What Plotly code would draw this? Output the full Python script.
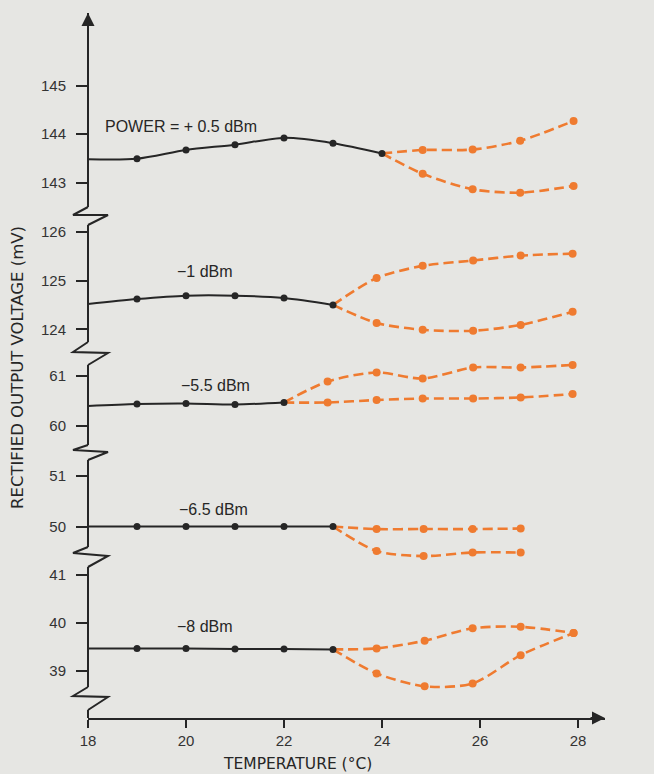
import plotly.graph_objects as go

# ---------------- data ----------------
# +0.5 dBm
t_black_p05 = [18, 19, 20, 21, 22, 23, 24]
v_black_p05 = [143.48, 143.49, 143.67, 143.78, 143.92, 143.81, 143.60]
t_orng_p05 = [24, 24.83, 25.85, 26.82, 27.91]
v_up_p05 = [143.60, 143.67, 143.68, 143.86, 144.27]
v_lo_p05 = [143.60, 143.18, 142.86, 142.79, 142.93]

# -1 dBm
t_black_m1 = [18, 19, 20, 21, 22, 23]
v_black_m1 = [124.52, 124.62, 124.69, 124.69, 124.64, 124.50]
t_orng_m1 = [23, 23.89, 24.83, 25.86, 26.83, 27.89]
v_up_m1 = [124.50, 125.05, 125.30, 125.41, 125.51, 125.55]
v_lo_m1 = [124.50, 124.13, 123.99, 123.97, 124.09, 124.36]

# -5.5 dBm
t_black_m55 = [18, 19, 20, 21, 22]
v_black_m55 = [60.40, 60.44, 60.45, 60.43, 60.47]
t_orng_m55 = [22, 22.89, 23.89, 24.83, 25.86, 26.83, 27.89]
v_up_m55 = [60.47, 60.89, 61.07, 60.95, 61.17, 61.17, 61.22]
v_lo_m55 = [60.47, 60.47, 60.52, 60.55, 60.55, 60.57, 60.64]

# -6.5 dBm
t_black_m65 = [18, 19, 20, 21, 22, 23]
v_black_m65 = [50.0, 50.0, 50.0, 50.0, 50.0, 50.0]
t_orng_m65 = [23, 23.89, 24.85, 25.85, 26.83]
v_up_m65 = [50.0, 49.95, 49.95, 49.95, 49.96]
v_lo_m65 = [50.0, 49.52, 49.42, 49.49, 49.49]

# -8 dBm
t_black_m8 = [18, 19, 20, 21, 22, 23]
v_black_m8 = [39.46, 39.46, 39.46, 39.45, 39.45, 39.44]
t_orng_m8 = [23, 23.89, 24.87, 25.85, 26.83, 27.91]
v_up_m8 = [39.44, 39.46, 39.62, 39.88, 39.91, 39.78]
v_lo_m8 = [39.44, 38.94, 38.67, 38.73, 39.32, 39.78]

labels = ["POWER = + 0.5 dBm", "\u22121 dBm", "\u22125.5 dBm", "\u22126.5 dBm", "\u22128 dBm"]
ticks_p05 = [143, 144, 145]
ticks_m1 = [124, 125, 126]
ticks_m55 = [60, 61]
ticks_m65 = [50, 51]
ticks_m8 = [39, 40, 41]
x_ticks = [18, 20, 22, 24, 26, 28]

# ---------------- geometry ----------------
W, H = 654, 774
ML, MR, MT, MB = 88, 49, 13, 56
PW, PH = W - ML - MR, H - MT - MB
BG = "#e6e6e3"
INK = "#262626"
ORANGE = "#ef7b30"
FONT = "Liberation Sans"
TFONT = "DejaVu Sans"


def py(p):
    return (H - MB - p) / PH


def px(p):
    return (p - ML) / PW


sections = [
    dict(ax="y5", label=labels[0], tb=t_black_p05, vb=v_black_p05, to=t_orng_p05, vu=v_up_p05, vl=v_lo_p05,
         ticks=ticks_p05, top=13, bot=216, vref=144, pref=134, k=48.5, lx=19.9, ly=144.15),
    dict(ax="y4", label=labels[1], tb=t_black_m1, vb=v_black_m1, to=t_orng_m1, vu=v_up_m1, vl=v_lo_m1,
         ticks=ticks_m1, top=216, bot=354, vref=125, pref=280.5, k=48.8, lx=20.39, ly=125.18),
    dict(ax="y3", label=labels[2], tb=t_black_m55, vb=v_black_m55, to=t_orng_m55, vu=v_up_m55, vl=v_lo_m55,
         ticks=ticks_m55, top=354, bot=453, vref=60.5, pref=401, k=50, lx=20.6, ly=60.82),
    dict(ax="y2", label=labels[3], tb=t_black_m65, vb=v_black_m65, to=t_orng_m65, vu=v_up_m65, vl=v_lo_m65,
         ticks=ticks_m65, top=453, bot=562, vref=50.5, pref=501, k=51, lx=20.57, ly=50.33),
    dict(ax="y", label=labels[4], tb=t_black_m8, vb=v_black_m8, to=t_orng_m8, vu=v_up_m8, vl=v_lo_m8,
         ticks=ticks_m8, top=562, bot=718, vref=40, pref=622.5, k=48, lx=20.39, ly=39.92),
]

fig = go.Figure()
layout_axes = {}
annotations = []

for s in sections:
    for vy in (s["vu"], s["vl"]):
        fig.add_trace(go.Scatter(
            x=s["to"], y=vy, xaxis="x", yaxis=s["ax"], mode="lines",
            line=dict(color=ORANGE, width=2.6, dash="10px,5px", shape="spline", smoothing=0.8),
            hoverinfo="skip", showlegend=False))
        fig.add_trace(go.Scatter(
            x=s["to"][1:], y=vy[1:], xaxis="x", yaxis=s["ax"], mode="markers",
            marker=dict(color=ORANGE, size=8), cliponaxis=False,
            showlegend=False))
    fig.add_trace(go.Scatter(
        x=s["tb"], y=s["vb"], xaxis="x", yaxis=s["ax"], mode="lines",
        line=dict(color=INK, width=2, shape="spline", smoothing=0.8),
        hoverinfo="skip", showlegend=False))
    fig.add_trace(go.Scatter(
        x=s["tb"][1:], y=s["vb"][1:], xaxis="x", yaxis=s["ax"], mode="markers",
        marker=dict(color=INK, size=7), cliponaxis=False, showlegend=False))

    lo = s["vref"] - (s["bot"] - s["pref"]) / s["k"]
    hi = s["vref"] + (s["pref"] - s["top"]) / s["k"]
    key = "yaxis" if s["ax"] == "y" else "yaxis" + s["ax"][1:]
    layout_axes[key] = dict(
        domain=[py(s["bot"]), py(s["top"])], range=[lo, hi], anchor="x",
        tickvals=s["ticks"], ticks="outside", ticklen=11, tickwidth=1.6, tickcolor=INK,
        ticklabelstandoff=7,
        showline=False, showgrid=False, zeroline=False,
        tickfont=dict(family=FONT, size=15, color="#333333"))
    annotations.append(dict(x=s["lx"], y=s["ly"], xref="x", yref=s["ax"], text=s["label"],
                            xanchor="center", yanchor="middle",
                            showarrow=False, font=dict(family=FONT, size=16, color=INK)))

# axis arrows
annotations.append(dict(x=1, y=0, xref="paper", yref="paper", ax=-16, ay=0, text="",
                        showarrow=True, arrowhead=2, arrowsize=1.3, arrowwidth=2, arrowcolor=INK))
annotations.append(dict(x=0, y=1, xref="paper", yref="paper", ax=0, ay=16, text="",
                        showarrow=True, arrowhead=2, arrowsize=1.3, arrowwidth=2, arrowcolor=INK))
# axis titles
annotations.append(dict(x=px(18), y=py(368), xref="paper", yref="paper", text="RECTIFIED OUTPUT VOLTAGE (mV)",
                        xanchor="center", yanchor="middle",
                        textangle=-90, showarrow=False, font=dict(family=TFONT, size=16.5, color=INK)))
annotations.append(dict(x=px(297), y=py(764), xref="paper", yref="paper", text="TEMPERATURE (\u00b0C)",
                        xanchor="center", yanchor="middle",
                        showarrow=False, font=dict(family=TFONT, size=15.5, color=INK)))

# broken y-axis: segments and zig-zags
X0 = 0.0
zl, zr = px(73), px(108)
segments = [(13, 207), (225, 342), (365, 445), (460, 547), (567, 687), (710, 718)]
zigs = [(207, 215, 215, 225), (342, 352, 353, 365), (445, 450, 452, 460),
        (547, 553, 556, 567), (687, 696, 697, 710)]
shapes = []
for a, b in segments:
    shapes.append(dict(type="line", xref="paper", yref="paper", x0=X0, x1=X0, y0=py(a), y1=py(b),
                       line=dict(color=INK, width=2)))
for a, b, c, d in zigs:
    path = f"M {X0},{py(a)} L {zl},{py(b)} L {zr},{py(c)} L {X0},{py(d)}"
    shapes.append(dict(type="path", xref="paper", yref="paper", path=path,
                       line=dict(color=INK, width=2)))

fig.update_layout(
    width=W, height=H,
    margin=dict(l=ML, r=MR, t=MT, b=MB),
    paper_bgcolor=BG, plot_bgcolor=BG,
    showlegend=False,
    xaxis=dict(range=[18, 18 + PW / 49], anchor="y", domain=[0, 1],
               tickvals=x_ticks, ticks="outside", ticklen=8, tickwidth=1.6, tickcolor=INK,
               showline=True, linecolor=INK, linewidth=2, showgrid=False, zeroline=False,
               tickfont=dict(family=FONT, size=15, color="#333333")),
    annotations=annotations,
    shapes=shapes,
    **layout_axes,
)

fig.write_html("out.html",
               config={"displayModeBar": False},
               post_script="document.body.style.margin='0';document.body.style.overflow='hidden';"
                           "document.body.style.background='" + BG + "';")
